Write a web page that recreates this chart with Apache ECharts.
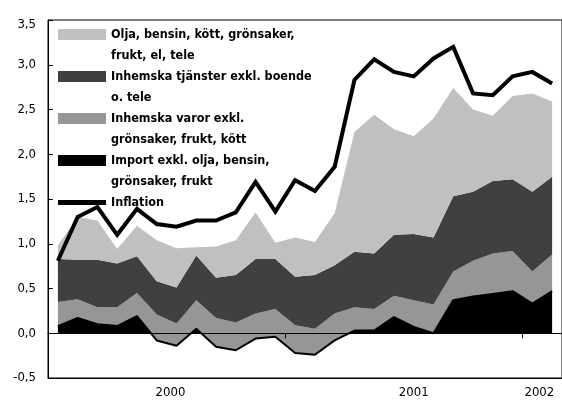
<!DOCTYPE html>
<html>
<head>
<meta charset="utf-8">
<script src="https://cdn.jsdelivr.net/npm/echarts@6/dist/echarts.min.js"></script>
<style>
  html, body { margin: 0; padding: 0; background: #fff; }
  #chart { width: 562px; height: 401px; }
</style>
</head>
<body>
<div id="chart"></div>
<script>
// monthly, jan 2000 - feb 2002
const months = [
    'jan 2000', 'feb 2000', 'mar 2000', 'apr 2000', 'maj 2000', 'jun 2000',
    'jul 2000', 'aug 2000', 'sep 2000', 'okt 2000', 'nov 2000', 'dec 2000',
    'jan 2001', 'feb 2001', 'mar 2001', 'apr 2001', 'maj 2001', 'jun 2001',
    'jul 2001', 'aug 2001', 'sep 2001', 'okt 2001', 'nov 2001', 'dec 2001',
    'jan 2002', 'feb 2002'
];

// contributions, stacked from the bottom
const importVals = [0.08, 0.17, 0.10, 0.08, 0.19, -0.08, -0.14, 0.05, -0.15, -0.19, -0.06, -0.04, -0.22,
    -0.24, -0.08, 0.03, 0.03, 0.18, 0.07, 0.00, 0.37, 0.41, 0.44, 0.47, 0.33, 0.47];
const varorVals = [0.27, 0.21, 0.19, 0.21, 0.26, 0.29, 0.25, 0.32, 0.32, 0.31, 0.28, 0.31, 0.31,
    0.29, 0.30, 0.26, 0.24, 0.24, 0.30, 0.32, 0.32, 0.40, 0.45, 0.45, 0.36, 0.41];
const tjansterVals = [0.48, 0.44, 0.53, 0.49, 0.41, 0.37, 0.40, 0.50, 0.45, 0.53, 0.61, 0.56, 0.54,
    0.60, 0.54, 0.62, 0.62, 0.68, 0.74, 0.75, 0.84, 0.77, 0.81, 0.80, 0.89, 0.87];
const oljaVals = [0.15, 0.48, 0.44, 0.16, 0.34, 0.46, 0.44, 0.09, 0.35, 0.39, 0.52, 0.18, 0.44,
    0.37, 0.58, 1.34, 1.55, 1.18, 1.09, 1.33, 1.21, 0.92, 0.73, 0.93, 1.10, 0.84];
const inflation = [0.81, 1.30, 1.41, 1.10, 1.39, 1.22, 1.19, 1.26, 1.26, 1.35, 1.69, 1.36, 1.71,
    1.59, 1.86, 2.83, 3.06, 2.92, 2.87, 3.07, 3.20, 2.68, 2.66, 2.87, 2.92, 2.79];

const yearLabels = {6: '2000', 18: '2001', 24: '2002'};
const yearTicks = [12, 24];

const names = {
    olja: 'Olja, bensin, kött, grönsaker,\nfrukt, el, tele',
    tjanster: 'Inhemska tjänster exkl. boende\no. tele',
    varor: 'Inhemska varor exkl.\ngrönsaker, frukt, kött',
    imp: 'Import exkl. olja, bensin,\ngrönsaker, frukt',
    infl: 'Inflation'
};

const FONT = '"Liberation Sans Narrow", "DejaVu Sans Condensed", "Arial Narrow", sans-serif';

// thick bar 5px high inside the 48x11 legend box
const lineIcon = 'path://M0,0 L48,0 L48,0 Z M0,3 L48,3 L48,8 L0,8 Z M0,11 L48,11 L48,11 Z';

function areaSeries(name, data, color, lineW) {
    return {
        name: name,
        type: 'line',
        stack: 'kpi',
        stackStrategy: 'all',
        data: data,
        symbol: 'none',
        lineStyle: { width: lineW, color: '#000' },
        itemStyle: { color: color },
        areaStyle: { color: color, opacity: 1 }
    };
}

var chart = echarts.init(document.getElementById('chart'));
var option = {
    animation: false,
    grid: {
        left: 48, top: 20, width: 520, height: 358,
        show: true, borderColor: '#000', borderWidth: 1,
        backgroundColor: 'transparent'
    },
    legend: {
        orient: 'vertical',
        left: 58, top: 3,
        padding: 0,
        itemGap: -21,
        itemWidth: 48,
        itemHeight: 11,
        textStyle: {
            fontFamily: FONT, fontSize: 12.5, fontWeight: 'bold',
            color: '#000', lineHeight: 21
        },
        formatter: function (name) {
            return name.indexOf('\n') >= 0 ? '\n' + name : '\n' + name + '\n';
        },
        data: [
            { name: names.olja, icon: 'rect' },
            { name: names.tjanster, icon: 'rect' },
            { name: names.varor, icon: 'rect' },
            { name: names.imp, icon: 'rect' },
            { name: names.infl, icon: lineIcon }
        ]
    },
    xAxis: [
        {
            type: 'category',
            data: months,
            boundaryGap: true,
            axisLine: { onZero: false, lineStyle: { color: '#000', width: 1 } },
            axisTick: { show: false },
            axisLabel: {
                interval: function (i) { return yearLabels[i] !== undefined; },
                formatter: function (v, i) {
                    if (i === 6) return '{l|' + yearLabels[i] + '}';
                    if (i === 24) return '{r|' + yearLabels[i] + '}';
                    return yearLabels[i] || '';
                },
                margin: 8,
                fontFamily: FONT, fontSize: 13, color: '#000',
                rich: {
                    l: { fontFamily: FONT, fontSize: 13, color: '#000', padding: [0, 12, 0, 0] },
                    r: { fontFamily: FONT, fontSize: 13, color: '#000', padding: [0, 0, 0, 14] }
                }
            },
            splitLine: { show: false }
        },
        {
            type: 'category',
            data: months,
            boundaryGap: true,
            position: 'bottom',
            z: 10,
            axisLine: { onZero: true, onZeroAxisIndex: 0, lineStyle: { color: '#000', width: 1 } },
            axisTick: {
                show: true,
                length: 5,
                interval: function (i) { return yearTicks.indexOf(i) >= 0; },
                lineStyle: { color: '#000' }
            },
            axisLabel: { show: false },
            splitLine: { show: false }
        }
    ],
    yAxis: {
        type: 'value',
        min: -0.5,
        max: 3.5,
        interval: 0.5,
        axisLine: { show: true, lineStyle: { color: '#000', width: 1 } },
        axisTick: { show: true, inside: true, length: 5, lineStyle: { color: '#000' } },
        axisLabel: {
            margin: 12,
            fontFamily: FONT, fontSize: 13, color: '#000',
            formatter: function (v) {
                var s = v.toFixed(1).replace('.', ',');
                return v === 3.5 ? '{t|' + s + '}' : s;
            },
            rich: {
                t: { fontFamily: FONT, fontSize: 13, color: '#000', padding: [10, 0, 0, 0] }
            }
        },
        splitLine: { show: false }
    },
    series: [
        areaSeries(names.imp, importVals, '#000000', 2),
        areaSeries(names.varor, varorVals, '#969696', 0),
        areaSeries(names.tjanster, tjansterVals, '#404040', 0),
        areaSeries(names.olja, oljaVals, '#c0c0c0', 0),
        {
            name: names.infl,
            type: 'line',
            data: inflation,
            symbol: 'none',
            z: 4,
            lineStyle: { width: 4, color: '#000', join: 'miter' },
            itemStyle: { color: '#000' }
        }
    ]
};
option && chart.setOption(option);
</script>
</body>
</html>
